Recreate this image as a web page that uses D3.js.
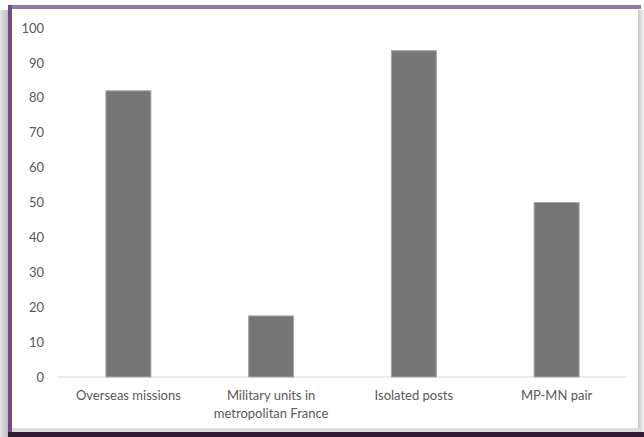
<!DOCTYPE html>
<html>
<head>
<meta charset="utf-8">
<script src="https://cdn.jsdelivr.net/npm/d3@7"></script>
<style>
  html, body { margin: 0; padding: 0; background: #ffffff; }
  svg { display: block; }
</style>
</head>
<body>
<svg id="chart" width="644" height="437"></svg>
<script>
// Share of respondents by deployment setting
const categories = ["Overseas missions", "Military units in metropolitan France", "Isolated posts", "MP-MN pair"];
const categoryLines = [["Overseas missions"], ["Military units in", "metropolitan France"], ["Isolated posts"], ["MP-MN pair"]];
const values = [82, 17.5, 93.5, 50];
const yTicks = [0, 10, 20, 30, 40, 50, 60, 70, 80, 90, 100];

const svg = d3.select("#chart");
const W = 644, H = 437;

// Frame: soft shadow on the left, purple edges, dark bottom rim
const defs = svg.append("defs");
const shadowL = defs.append("linearGradient").attr("id", "shadowL").attr("x1", 0).attr("x2", 1);
shadowL.append("stop").attr("offset", 0).attr("stop-color", "#e4e4e4");
shadowL.append("stop").attr("offset", 1).attr("stop-color", "#bdbdbd");
const shadowR = defs.append("linearGradient").attr("id", "shadowR").attr("x1", 0).attr("x2", 1);
shadowR.append("stop").attr("offset", 0).attr("stop-color", "#c8c8c8");
shadowR.append("stop").attr("offset", 1).attr("stop-color", "#f4f4f4");

svg.append("rect").attr("x", 0).attr("y", 0).attr("width", W).attr("height", H).attr("fill", "#ffffff");
svg.append("rect").attr("x", 0).attr("y", 10).attr("width", 8).attr("height", H - 10).attr("fill", "url(#shadowL)");
svg.append("rect").attr("x", 638).attr("y", 10).attr("width", 6).attr("height", 422).attr("fill", "url(#shadowR)");
svg.append("rect").attr("x", 8).attr("y", 5).attr("width", 633).attr("height", 4).attr("fill", "#9479a5");
svg.append("rect").attr("x", 8).attr("y", 5).attr("width", 4).attr("height", 428).attr("fill", "#6e4f80");
svg.append("rect").attr("x", 12).attr("y", 428).attr("width", 628).attr("height", 4).attr("fill", "#dcdcdc");
svg.append("rect").attr("x", 8).attr("y", 432).attr("width", 636).attr("height", 5).attr("fill", "#2f1c35");

// Plot area
const x = d3.scaleBand().domain(categories).range([57, 628]).paddingInner(0.685).paddingOuter(0.3425);
const y = d3.scaleLinear().domain([0, 100]).range([377, 28]);

const font = "Lato, 'Open Sans', sans-serif";

// Y tick labels
const yAxis = d3.axisLeft(y).tickValues(yTicks).tickSize(0).tickPadding(0);
const yg = svg.append("g").attr("transform", "translate(44,0)").call(yAxis);
yg.select(".domain").remove();
yg.selectAll("text").attr("fill", "#595959").attr("font-size", 13).attr("font-family", font);

// Baseline
svg.append("line").attr("x1", 57).attr("x2", 627).attr("y1", y(0)).attr("y2", y(0))
  .attr("stroke", "#d9d9d9").attr("stroke-width", 1);

// Bars
svg.append("g").selectAll("rect").data(values).join("rect")
  .attr("x", (d, i) => x(categories[i]))
  .attr("y", d => y(d))
  .attr("width", x.bandwidth())
  .attr("height", d => y(0) - y(d))
  .attr("fill", "#767676")
  .attr("stroke", "#a6a6a6")
  .attr("stroke-width", 1);

// Category labels
const labels = svg.append("g").selectAll("text").data(categories).join("text")
  .attr("x", d => x(d) + x.bandwidth() / 2)
  .attr("y", 400)
  .attr("text-anchor", "middle")
  .attr("fill", "#595959")
  .attr("font-size", 13)
  .attr("font-family", font);
labels.each(function(d, i) {
  d3.select(this).selectAll("tspan").data(categoryLines[i]).join("tspan")
    .attr("x", x(d) + x.bandwidth() / 2)
    .attr("dy", (t, j) => j === 0 ? 0 : 18)
    .text(t => t);
});
</script>
</body>
</html>
